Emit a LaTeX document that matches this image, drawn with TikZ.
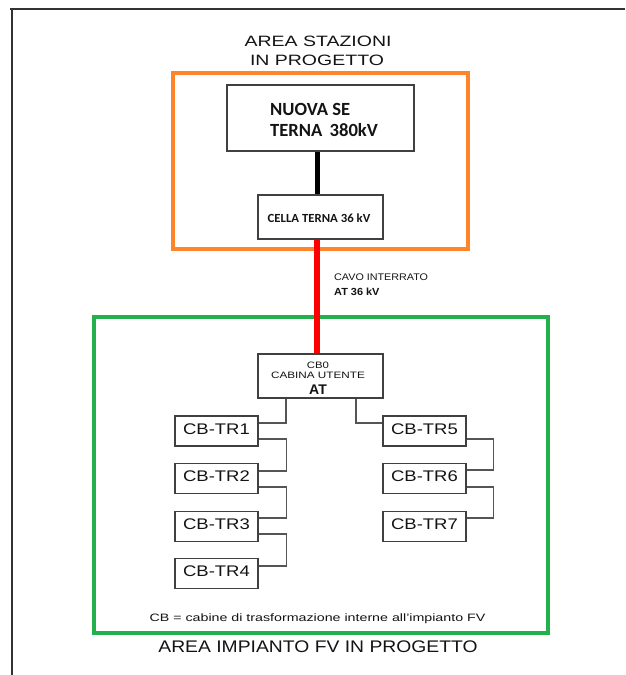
\documentclass[tikz,border=0pt]{standalone}
\usepackage{graphicx}
\usepackage{fontspec}
\setmainfont{Liberation Sans}
\newfontfamily\carl{Carlito}
\usetikzlibrary{calc}
\newcommand\hs[2]{\scalebox{#1}[1]{#2}}
\newcommand\fs[1]{\fontsize{#1}{#1}\selectfont}
\definecolor{orangec}{RGB}{255,133,43}
\definecolor{greenc}{RGB}{34,177,76}
\definecolor{boxc}{RGB}{64,64,64}
\definecolor{connc}{RGB}{85,85,85}
\definecolor{framec}{RGB}{50,50,50}
\definecolor{txt}{RGB}{20,20,20}
\definecolor{redc}{RGB}{255,0,0}
\begin{document}
\begin{tikzpicture}[x=1pt,y=-1pt,
  box/.style={draw=boxc,line width=1.3pt,fill=white,inner sep=0pt},
  trbox/.style={box,minimum width=83pt,minimum height=30pt,text=txt,font=\fs{15.4},text depth=4pt},
  conn/.style={draw=connc,line width=1.2pt},
  lbl/.style={inner sep=0pt,text=txt},
  area/.style={line width=3.6pt,inner sep=0pt}]
\useasboundingbox (0,0) rectangle (625,675);
\fill[white] (0,0) rectangle (625,675);
% outer frame
\coordinate (f1) at (10,9);
\coordinate (f2) at (625,9);
\coordinate (f3) at (12,9);
\coordinate (f4) at (12,675);
\draw[framec,line width=2pt] (f1) -- (f2);
\draw[framec,line width=2pt] (f3) -- (f4);
% areas
\node[area,draw=orangec,minimum width=295pt,minimum height=176pt] (orange) at (320.5,161) {};
\node[area,draw=greenc,minimum width=454pt,minimum height=316pt] (green) at (321,475) {};
% titles
\node[lbl,anchor=base] (tA) at (318,46.7) {\fs{15}\hs{1.3}{AREA STAZIONI}};
\node[lbl,anchor=base] (tB) at (317,65) {\fs{15}\hs{1.3}{IN PROGETTO}};
\node[lbl,anchor=base] (tC) at (318,652.7) {\fs{16.8}\hs{1.15}{AREA IMPIANTO FV IN PROGETTO}};
\node[lbl,anchor=base] (tD) at (317.5,621) {\fs{10.7}\hs{1.33}{CB = cabine di trasformazione interne all'impianto FV}};
% vertical axis coordinates
\coordinate (bx) at (317,0);
\coordinate (lx) at (286,0);
\coordinate (rx) at (356,0);
% boxes
\node[box,minimum width=187pt,minimum height=66pt] (se) at (320.5,118) {};
\node[box,minimum width=125pt,minimum height=44pt] (cella) at (320.5,217) {};
\node[box,minimum width=125pt,minimum height=44pt] (cb0) at (320.5,376) {};
% main lines
\draw[black,line width=5pt] (se.south -| bx) -- (cella.north -| bx);
\draw[redc,line width=5.5pt] (cella.south -| bx) -- (cb0.north -| bx);
% texts in upper boxes
\node[lbl,anchor=base west] (sea) at (270,115) {\carl\bfseries\fs{18.6}NUOVA SE};
\node[lbl,anchor=base west] (seb) at (270,136.5) {\carl\bfseries\fs{18.6}TERNA\hspace{3pt} 380kV};
\node[lbl,anchor=base] (cellat) at (319,222) {\carl\bfseries\fs{12.4}\hs{1.03}{CELLA TERNA 36 kV}};
% cable label
\node[lbl,anchor=base west] (cav1) at (334,280) {\fs{9.6}\hs{1.12}{CAVO INTERRATO}};
\node[lbl,anchor=base west] (cav2) at (334,295.7) {\bfseries\fs{10.3}\hs{1.06}{AT 36 kV}};
% CB0 texts
\node[lbl,anchor=base] (cb0a) at (318,368.3) {\fs{9.3}\hs{1.22}{CB0}};
\node[lbl,anchor=base] (cb0b) at (318,378) {\fs{9.3}\hs{1.26}{CABINA UTENTE}};
\node[lbl,anchor=base] (cb0c) at (318,394.3) {\bfseries\fs{14}AT};
% CB-TR boxes
\node[trbox] (tr1) at (216.5,431) {\hs{1.2}{CB-TR1}};
\node[trbox] (tr2) at (216.5,478.5) {\hs{1.2}{CB-TR2}};
\node[trbox] (tr3) at (216.5,526.5) {\hs{1.2}{CB-TR3}};
\node[trbox] (tr4) at (216.5,573.5) {\hs{1.2}{CB-TR4}};
\node[trbox] (tr5) at (424.5,431) {\hs{1.2}{CB-TR5}};
\node[trbox] (tr6) at (424.5,478.5) {\hs{1.2}{CB-TR6}};
\node[trbox] (tr7) at (424.5,526.5) {\hs{1.2}{CB-TR7}};
% connectors
\draw[conn] (cb0.south -| lx) |- ($(tr1.east)+(0,-8)$);
\draw[conn] (cb0.south -| rx) |- ($(tr5.west)+(0,-8)$);
\draw[conn] ($(tr1.east)+(0,8)$) -- ++(28,0) |- ($(tr2.east)+(0,-7.5)$);
\draw[conn] ($(tr2.east)+(0,8.5)$) -- ++(28,0) |- ($(tr3.east)+(0,-8.5)$);
\draw[conn] ($(tr3.east)+(0,7.5)$) -- ++(28,0) |- ($(tr4.east)+(0,-7.5)$);
\draw[conn] ($(tr5.east)+(0,8)$) -- ++(27,0) |- ($(tr6.east)+(0,-8.5)$);
\draw[conn] ($(tr6.east)+(0,8.5)$) -- ++(27,0) |- ($(tr7.east)+(0,-8.5)$);
\end{tikzpicture}
\end{document}
